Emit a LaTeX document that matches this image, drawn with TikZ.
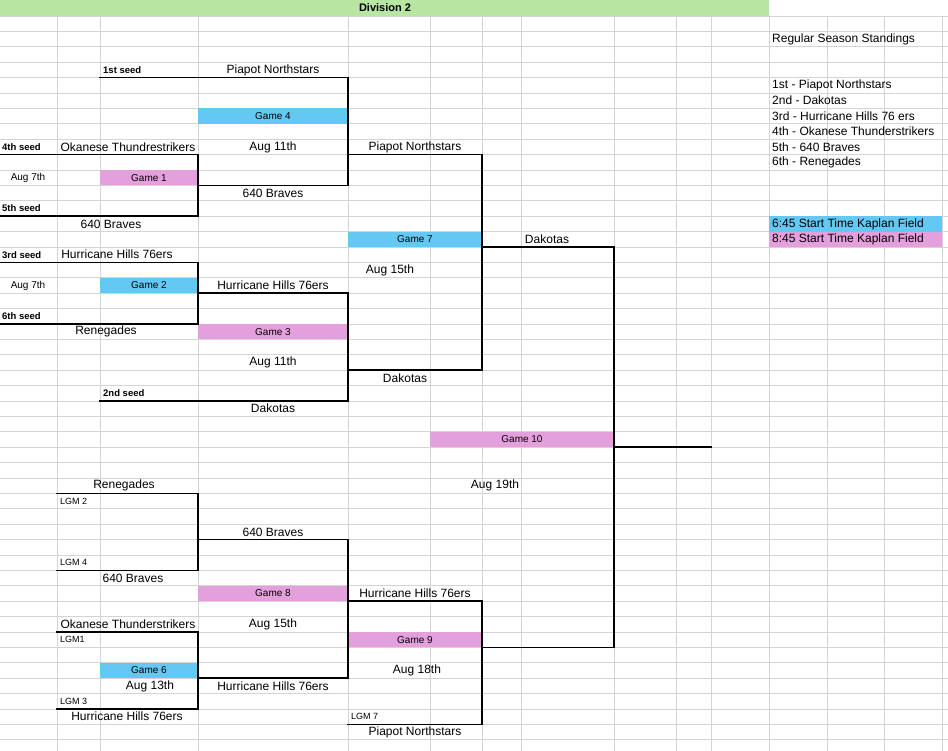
\documentclass[tikz,border=0pt]{standalone}
\usepackage{fontspec}
\setmainfont{Liberation Sans}
\definecolor{gbl}{RGB}{99,201,242}
\definecolor{gpk}{RGB}{228,160,220}
\definecolor{ggr}{RGB}{182,230,162}
\definecolor{ggrid}{RGB}{212,212,212}
\tikzset{
 txt/.style={inner sep=0pt,font=\fontsize{12}{12}\selectfont},
 lt/.style={txt,anchor=west},
 seed/.style={inner sep=0pt,anchor=west,font=\bfseries\fontsize{9.5}{10}\selectfont},
 sm/.style={inner sep=0pt,anchor=west,font=\fontsize{9}{10}\selectfont},
 brk/.style={line width=1.6pt,line cap=rect},
 gl/.style={txt,font=\fontsize{10}{10}\selectfont},
}
\begin{document}
\begin{tikzpicture}[x=1pt,y=-15.4pt]
\useasboundingbox[fill=white] (0pt,0pt) rectangle (948pt,-750pt);
\fill[ggr] (0pt,0pt) rectangle (769pt,-16pt);
\node[inner sep=0pt,font=\bfseries\fontsize{11}{12}\selectfont] (hd) at (385pt,-8pt) {Division 2};
\begin{scope}[yshift=-16pt]
% grid
\foreach \b in {0,...,47} \draw[ggrid,line width=0.8pt] (0,\b) -- (948,\b);
\foreach \x in {57,100,198,348,430,482,521,614,676,711,769,827,884,942} \draw[ggrid,line width=0.8pt] (\x,0) -- (\x,47.7);
% fills
\fill[gbl] (198,6) rectangle (348,7);
\fill[gpk] (100,10) rectangle (198,11);
\fill[gbl] (348,14) rectangle (482,15);
\fill[gbl] (100,17) rectangle (198,18);
\fill[gpk] (198,20) rectangle (348,21);
\fill[gpk] (430,27) rectangle (614,28);
\fill[gpk] (198,37) rectangle (348,38);
\fill[gpk] (348,40) rectangle (482,41);
\fill[gbl] (100,42) rectangle (198,43);
\fill[gbl] (769,13) rectangle (942,14);
\fill[gpk] (769,14) rectangle (942,15);
% game labels
\node[gl] (g4) at (273,6.5) {Game 4};
\node[gl] (g1) at (149,10.5) {Game 1};
\node[gl] (g7) at (415,14.5) {Game 7};
\node[gl] (g2) at (149,17.5) {Game 2};
\node[gl] (g3) at (273,20.5) {Game 3};
\node[gl] (g10) at (522,27.5) {Game 10};
\node[gl] (g8) at (273,37.5) {Game 8};
\node[gl] (g9) at (415,40.5) {Game 9};
\node[gl] (g6) at (149,42.5) {Game 6};
% bracket lines
\draw[brk] (100,4) -- (348,4) -- (348,11) -- (198,11);
\draw[brk] (348,9) -- (482,9) -- (482,23) -- (348,23);
\draw[brk] (0,9) -- (198,9) -- (198,13) -- (0,13);
\draw[brk] (0,16) -- (198,16) -- (198,20) -- (0,20);
\draw[brk] (198,18) -- (348,18) -- (348,25) -- (100,25);
\draw[brk] (482,15) -- (614,15) -- (614,41) -- (482,41);
\draw[brk] (614,28) -- (711,28);
\draw[brk] (57,31) -- (198,31) -- (198,36) -- (57,36);
\draw[brk] (198,34) -- (348,34) -- (348,43) -- (198,43);
\draw[brk] (348,38) -- (482,38) -- (482,46) -- (348,46);
\draw[brk] (57,40) -- (198,40) -- (198,45) -- (57,45);
% texts
\node[seed] (s1) at (103,3.5) {1st seed};
\node[txt] (t1) at (273,3.5) {Piapot Northstars};
\node[seed] (s4) at (2,8.5) {4th seed};
\node[txt] (t2) at (128,8.5) {Okanese Thundrestrikers};
\node[txt] (t3) at (273,8.5) {Aug 11th};
\node[txt] (t4) at (415,8.5) {Piapot Northstars};
\node[gl] (a1) at (28,10.5) {Aug 7th};
\node[txt] (t5) at (273,11.5) {640 Braves};
\node[seed] (s5) at (2,12.5) {5th seed};
\node[txt] (t6) at (111,13.5) {640 Braves};
\node[txt] (t7) at (547,14.5) {Dakotas};
\node[seed] (s3) at (2,15.5) {3rd seed};
\node[txt] (t8) at (117,15.5) {Hurricane Hills 76ers};
\node[txt] (t9) at (390,16.5) {Aug 15th};
\node[gl] (a2) at (28,17.5) {Aug 7th};
\node[txt] (t10) at (273,17.5) {Hurricane Hills 76ers};
\node[seed] (s6) at (2,19.5) {6th seed};
\node[txt] (t11) at (106,20.5) {Renegades};
\node[txt] (t12) at (273,22.5) {Aug 11th};
\node[txt] (t13) at (405,23.5) {Dakotas};
\node[seed] (s2) at (103,24.5) {2nd seed};
\node[txt] (t14) at (273,25.5) {Dakotas};
\node[txt] (t15) at (495,30.5) {Aug 19th};
\node[txt] (t16) at (124,30.5) {Renegades};
\node[sm] (l2) at (60,31.5) {LGM 2};
\node[txt] (t17) at (273,33.5) {640 Braves};
\node[sm] (l4) at (60,35.5) {LGM 4};
\node[txt] (t18) at (133,36.5) {640 Braves};
\node[txt] (t19) at (415,37.5) {Hurricane Hills 76ers};
\node[txt] (t20) at (128,39.5) {Okanese Thunderstrikers};
\node[txt] (t21) at (273,39.5) {Aug 15th};
\node[sm] (l1) at (60,40.5) {LGM1};
\node[txt] (t22) at (417,42.5) {Aug 18th};
\node[txt] (t23) at (150,43.5) {Aug 13th};
\node[txt] (t24) at (273,43.5) {Hurricane Hills 76ers};
\node[sm] (l3) at (60,44.5) {LGM 3};
\node[txt] (t25) at (127,45.5) {Hurricane Hills 76ers};
\node[sm] (l7) at (351,45.5) {LGM 7};
\node[txt] (t26) at (415,46.5) {Piapot Northstars};
% standings
\node[lt] (r0) at (772,1.5) {Regular Season Standings};
\node[lt] (r1) at (772,4.5) {1st - Piapot Northstars};
\node[lt] (r2) at (772,5.5) {2nd - Dakotas};
\node[lt] (r3) at (772,6.5) {3rd - Hurricane Hills 76 ers};
\node[lt] (r4) at (772,7.5) {4th - Okanese Thunderstrikers};
\node[lt] (r5) at (772,8.5) {5th - 640 Braves};
\node[lt] (r6) at (772,9.5) {6th - Renegades};
\node[lt] (k1) at (772,13.5) {6:45 Start Time Kaplan Field};
\node[lt] (k2) at (772,14.5) {8:45 Start Time Kaplan Field};
\end{scope}
\end{tikzpicture}
\end{document}
